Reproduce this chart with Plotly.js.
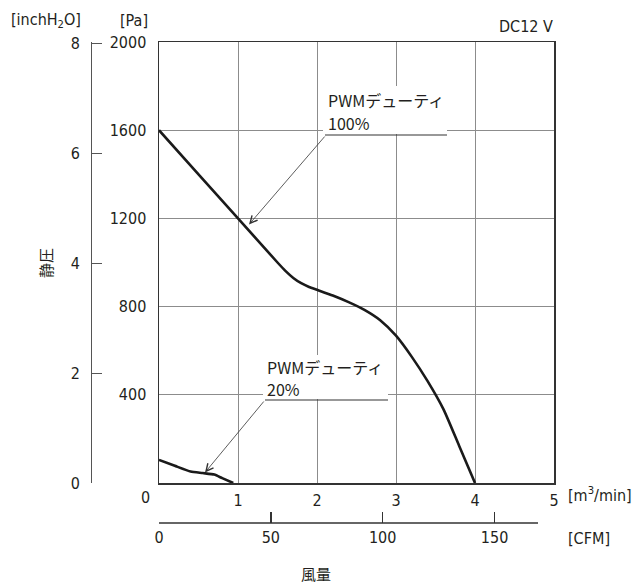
<!DOCTYPE html>
<html><head><meta charset="utf-8">
<script src="https://cdn.plot.ly/plotly-3.0.1.min.js"></script>
<style>html,body{margin:0;padding:0;background:#fff}#chart{width:633px;height:585px}</style>
</head><body><div id="chart"></div>
<script>
// ---- data ----
const flow100 = [0, 0.5, 1.0, 1.5, 1.6, 1.7, 1.8, 1.9, 2.0, 2.2, 2.4, 2.6, 2.8, 3.0, 3.2, 3.4, 3.6, 3.8, 4.0];
const pres100 = [1600, 1400, 1200, 1000, 962, 930, 906, 889, 876, 850, 820, 785, 738, 668, 572, 462, 335, 168, 0];
const flow20 = [0, 0.2, 0.4, 0.55, 0.7, 0.8, 0.94];
const pres20 = [105, 78, 52, 45, 38, 22, 0];
const m3TickVals = [1, 2, 3, 4, 5];
const m3TickText = ['1', '2', '3', '4', '5'];
const paTicks = [400, 800, 1200, 1600, 2000];
const inchTicks = [0, 2, 4, 6, 8];
const cfmTicks = [0, 50, 100, 150];
const label100 = ['PWMデューティ', '100%'];
const label20 = ['PWMデューティ', '20%'];

const PA_PER_INCH = 249.089;
const M3_PER_CFM = 0.0283168;
const X_MAX = 5, Y_MAX = 2000;

// ---- geometry helpers ----
const W = 633, H = 585, ML = 60, MR = 79, MT = 42, MB = 40;
const PW = W - ML - MR, PH = H - MT - MB;
const px = x => (x - ML) / PW;
const py = y => (H - MB - y) / PH;
const PLOT_L = 159, PLOT_B = 483;
const xPerPx = X_MAX / (W - MR - PLOT_L);
const yPerPx = Y_MAX / (PLOT_B - MT);
const dx = p => (p - PLOT_L) * xPerPx;   // pixel -> m3/min
const dy = p => (PLOT_B - p) * yPerPx;   // pixel -> Pa

const NUM_FONT = "'Liberation Sans Narrow', 'DejaVu Sans Condensed', 'Roboto', sans-serif";
const JP_FONT = "'Noto Sans CJK JP', 'Noto Sans', sans-serif";
const TXT = '#231f20';
const GRID = '#8c8c8c';

const traces = [
  {x: flow100, y: pres100, mode: 'lines', line: {color: '#1a1a1a', width: 2.6, shape: 'spline', smoothing: 0.6},
   hoverinfo: 'skip', showlegend: false},
  {x: flow20, y: pres20, mode: 'lines', line: {color: '#1a1a1a', width: 2.6, shape: 'spline', smoothing: 0.5},
   hoverinfo: 'skip', showlegend: false},
  {x: cfmTicks, y: cfmTicks.map(() => null), xaxis: 'x2', yaxis: 'y', mode: 'markers', hoverinfo: 'skip', showlegend: false},
  {x: inchTicks.map(() => null), y: inchTicks, xaxis: 'x', yaxis: 'y2', mode: 'markers', hoverinfo: 'skip', showlegend: false}
];

const ann = (o) => Object.assign({xref: 'paper', yref: 'paper', showarrow: false,
  xanchor: 'center', yanchor: 'middle',
  font: {family: NUM_FONT, size: 16, color: TXT}}, o);

const callout = (lines, xLeft, yFirst, gap) => lines.map((t, i) => ({
  xref: 'x', yref: 'y', x: dx(xLeft), y: dy(yFirst + i * gap), text: t, showarrow: false,
  xanchor: 'left', yanchor: 'middle', align: 'left', font: {family: JP_FONT, size: 16, color: TXT}}));

const annotations = [
  ann({x: px(46), y: py(20), text: '[inchH<sub>2</sub>O]'}),
  ann({x: px(150), y: py(20), text: '[Pa]', xanchor: 'right'}),
  ann({x: px(555), y: py(27), text: 'DC12 V', xanchor: 'right'}),
  ann({x: px(45), y: py(263), text: '静圧', textangle: -90, font: {family: JP_FONT, size: 15, color: TXT}}),
  ann({x: px(316), y: py(573), text: '風量', font: {family: JP_FONT, size: 15, color: TXT}}),
  ann({x: px(566), y: py(494), text: '[m<sup>3</sup>/min]', xanchor: 'left'}),
  ann({x: px(566), y: py(538), text: '[CFM]', xanchor: 'left'}),
  ann({x: px(145), y: py(497), text: '0'}),
  ...callout(label100, 326, 100, 23),
  ...callout(label20, 265, 367, 22),
  // callout arrows
  {xref: 'x', yref: 'y', axref: 'x', ayref: 'y', x: dx(249), y: dy(224.5), ax: dx(326), ay: dy(135),
   text: '', showarrow: true, arrowhead: 5, arrowsize: 1.8, arrowwidth: 0.8, arrowcolor: '#333'},
  {xref: 'x', yref: 'y', axref: 'x', ayref: 'y', x: dx(205), y: dy(472.5), ax: dx(265), ay: dy(400),
   text: '', showarrow: true, arrowhead: 5, arrowsize: 1.8, arrowwidth: 0.8, arrowcolor: '#333'}
];

const shapes = [
  // white patches behind callout text
  {type: 'rect', xref: 'x', yref: 'y', x0: dx(323), x1: dx(447), y0: dy(134), y1: dy(86), fillcolor: '#fff', line: {width: 0}, layer: 'above'},
  {type: 'rect', xref: 'x', yref: 'y', x0: dx(263), x1: dx(388), y0: dy(399), y1: dy(355), fillcolor: '#fff', line: {width: 0}, layer: 'above'},
  // callout underlines
  {type: 'line', xref: 'x', yref: 'y', x0: dx(325), x1: dx(447), y0: dy(135), y1: dy(135), line: {color: '#333', width: 1.1}, layer: 'above'},
  {type: 'line', xref: 'x', yref: 'y', x0: dx(265), x1: dx(388), y0: dy(400), y1: dy(400), line: {color: '#333', width: 1.1}, layer: 'above'},
  // CFM axis baseline (shorter than plot width)
  {type: 'line', xref: 'paper', yref: 'paper', x0: px(159), x1: px(538), y0: py(523), y1: py(523), line: {color: '#333', width: 1.5}}
];

const layout = {
  width: W, height: H,
  margin: {l: ML, r: MR, t: MT, b: MB, pad: 0},
  paper_bgcolor: '#fff', plot_bgcolor: '#fff',
  showlegend: false,
  font: {family: NUM_FONT, size: 16, color: TXT},
  xaxis: {domain: [px(PLOT_L), 1], range: [0, X_MAX], tickvals: m3TickVals, ticktext: m3TickText,
    showgrid: true, gridcolor: GRID, gridwidth: 1, zeroline: false,
    showline: true, mirror: true, linecolor: '#333', linewidth: 1.5,
    ticks: '', ticklabelstandoff: 2, tickfont: {family: NUM_FONT, size: 16, color: TXT}, fixedrange: true},
  yaxis: {domain: [py(PLOT_B), 1], range: [0, Y_MAX], tickvals: paTicks,
    showgrid: true, gridcolor: GRID, gridwidth: 1, zeroline: false,
    showline: true, mirror: true, linecolor: '#333', linewidth: 1.5,
    ticks: '', ticklabelstandoff: 8, tickfont: {family: NUM_FONT, size: 16, color: TXT}, fixedrange: true},
  yaxis2: {overlaying: 'y', anchor: 'free', side: 'left', position: px(91),
    range: [0, Y_MAX / PA_PER_INCH], tickvals: inchTicks,
    showgrid: false, zeroline: false, showline: true, linecolor: '#555', linewidth: 1.2,
    ticks: 'inside', ticklen: 10, tickwidth: 1.2, tickcolor: '#555', ticklabelstandoff: 8,
    tickfont: {family: NUM_FONT, size: 16, color: TXT}, fixedrange: true},
  xaxis2: {overlaying: 'x', anchor: 'free', side: 'bottom', position: py(523),
    range: [0, X_MAX / M3_PER_CFM], tickvals: cfmTicks,
    showgrid: false, zeroline: false, showline: false,
    ticks: 'inside', ticklen: 11, tickwidth: 1.3, tickcolor: '#333', ticklabelstandoff: 3,
    tickfont: {family: NUM_FONT, size: 16, color: TXT}, fixedrange: true},
  annotations: annotations,
  shapes: shapes
};

Plotly.newPlot('chart', traces, layout, {displayModeBar: false, staticPlot: true});
</script>
</body></html>
